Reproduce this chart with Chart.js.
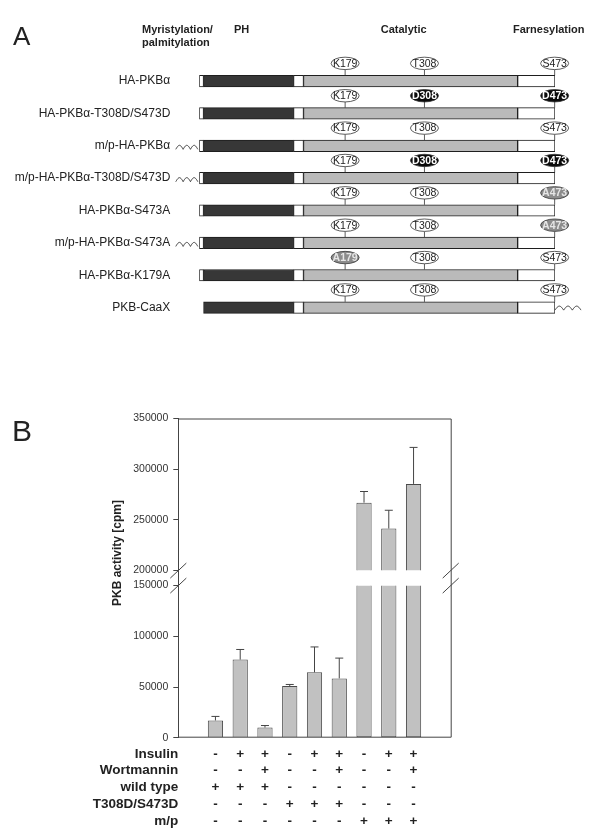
<!DOCTYPE html>
<html><head><meta charset="utf-8">
<script src="https://cdn.jsdelivr.net/npm/chart.js@4.4.0/dist/chart.umd.min.js"></script>
<style>
html,body{margin:0;padding:0;background:#fff;}
#wrap{position:relative;width:614px;height:840px;overflow:hidden;background:#fff;}
canvas{position:absolute;left:0;}
#cA{top:0;} #cB{top:360px;}
</style></head><body>
<div id="wrap"><canvas id="cA" width="614" height="360"></canvas><canvas id="cB" width="614" height="480"></canvas></div>
<script>
// ---------- Panel A data ----------
const constructs = ['HA-PKBα','HA-PKBα-T308D/S473D','m/p-HA-PKBα','m/p-HA-PKBα-T308D/S473D','HA-PKBα-S473A','m/p-HA-PKBα-S473A','HA-PKBα-K179A','PKB-CaaX'];
const domainNames = ['HA','PH','linker','Catalytic','C-terminus'];
const domainStart = [0, 1.2, 26.5, 29.3, 89.5];
const domainEnd = [1.2, 26.5, 29.3, 89.5, 100];
const hasHA = [true, true, true, true, true, true, true, false];
const lipidAnchor = ['', '', 'N', 'N', '', 'N', '', 'C'];
const sitePositions = [41.0, 63.3, 99.9];
const site179 = ['K179','K179','K179','K179','K179','K179','A179','K179'];
const site308 = ['T308','D308','T308','D308','T308','T308','T308','T308'];
const site473 = ['S473','D473','S473','D473','A473','A473','S473','S473'];
const headers = ['Myristylation/', 'palmitylation', 'PH', 'Catalytic', 'Farnesylation'];

// ---------- Panel B data ----------
const activity = [17000, 77000, 10000, 51000, 64500, 58500, 267000, 241500, 285500];
const activityErr = [4000, 10000, 2000, 1500, 25000, 20000, 11000, 18000, 36000];
const rowTitles = ['Insulin', 'Wortmannin', 'wild type', 'T308D/S473D', 'm/p'];
const insulin    = ['-','+','+','-','+','+','-','+','+'];
const wortmannin = ['-','-','+','-','-','+','-','-','+'];
const wildType   = ['+','+','+','-','-','-','-','-','-'];
const t308dS473d = ['-','-','-','+','+','+','-','-','-'];
const mp         = ['-','-','-','-','-','-','+','+','+'];
const yTicksLower = [0, 50000, 100000, 150000];
const yTicksUpper = [200000, 250000, 300000, 350000];
const breakLow = 150000, breakHigh = 200000;

const FONT = "'Liberation Sans', Arial, Helvetica, sans-serif";
const INK = '#222';

// ================= Panel A =================
const domainColors = ['#ffffff', '#373737', '#ffffff', '#bababa', '#ffffff'];
const dsA = domainNames.map((name, d) => ({
  label: name,
  data: constructs.map((c, r) => (d === 0 && !hasHA[r]) ? null : [domainStart[d], domainEnd[d]]),
  backgroundColor: domainColors[d],
  borderColor: '#1e1e1e',
  borderWidth: 1,
  borderSkipped: false,
  barThickness: 11.5,
  grouped: false
}));

function wave(ctx, x0, x1, y, humps, amp) {
  ctx.beginPath();
  const n = 60;
  for (let i = 0; i <= n; i++) {
    const t = i / n;
    const x = x0 + (x1 - x0) * t;
    const yy = y - amp * Math.abs(Math.sin(Math.PI * humps * t)) + amp / 2;
    if (i === 0) ctx.moveTo(x, yy); else ctx.lineTo(x, yy);
  }
  ctx.stroke();
}

const panelAPlugin = {
  id: 'panelA',
  afterDatasetsDraw(chart) {
    const ctx = chart.ctx;
    const xs = chart.scales.x, ys = chart.scales.y;
    ctx.save();
    // sites
    const sites = [site179, site308, site473];
    constructs.forEach((c, r) => {
      const yc = ys.getPixelForValue(r);
      const barTop = yc - 5.75;
      const ey = yc - 17.7;
      sites.forEach((arr, s) => {
        const lab = arr[r];
        const x = xs.getPixelForValue(sitePositions[s]);
        const kind = lab[0];
        ctx.strokeStyle = '#333';
        ctx.lineWidth = 0.8;
        ctx.beginPath(); ctx.moveTo(x, ey + 6.2); ctx.lineTo(x, barTop); ctx.stroke();
        ctx.beginPath(); ctx.ellipse(x, ey, 14, 6.2, 0, 0, Math.PI * 2);
        let fill = '#fff', txt = '#222', bold = '';
        if (kind === 'D') { fill = '#0a0a0a'; txt = '#fff'; bold = 'bold '; }
        else if (kind === 'A') { fill = '#8c8c8c'; txt = '#e6e6e6'; bold = 'bold '; }
        ctx.fillStyle = fill; ctx.fill(); ctx.stroke();
        ctx.fillStyle = txt;
        ctx.font = bold + '10.5px ' + FONT;
        ctx.textAlign = 'center'; ctx.textBaseline = 'middle';
        ctx.fillText(lab, x, ey + 0.5);
      });
      // lipid anchors
      ctx.strokeStyle = '#333'; ctx.lineWidth = 1;
      if (lipidAnchor[r] === 'N') {
        const x1 = xs.getPixelForValue(0) - 1.5;
        wave(ctx, x1 - 22, x1, yc + 1.5, 3, 4);
      } else if (lipidAnchor[r] === 'C') {
        const x0 = xs.getPixelForValue(100);
        wave(ctx, x0, x0 + 26, yc + 0.5, 3, 4);
      }
    });
    // headers
    ctx.fillStyle = INK;
    ctx.textBaseline = 'alphabetic';
    ctx.font = 'bold 11px ' + FONT;
    ctx.textAlign = 'left';
    ctx.fillText(headers[0], 142, 32.5);
    ctx.fillText(headers[1], 142, 46);
    ctx.fillText(headers[2], 234, 32.5);
    ctx.textAlign = 'center';
    ctx.fillText(headers[3], 403.7, 32.5);
    ctx.textAlign = 'left';
    ctx.fillText(headers[4], 513, 32.5);
    ctx.font = '26px ' + FONT;
    ctx.fillText('A', 13, 44.5);
    ctx.restore();
  }
};

new Chart(document.getElementById('cA'), {
  type: 'bar',
  data: { labels: constructs, datasets: dsA },
  options: {
    indexAxis: 'y', responsive: false, animation: false, events: [],
    layout: { padding: { top: 64.9, bottom: 18.3, right: 59, left: 0 } },
    plugins: { legend: { display: false }, tooltip: { enabled: false } },
    scales: {
      x: { type: 'linear', min: 0, max: 100, display: false },
      y: {
        type: 'category',
        grid: { display: false, drawTicks: false },
        border: { display: false },
        ticks: { padding: 29, color: INK, font: { family: FONT, size: 12 } },
        afterFit(s) { s.width = 199.3; }
      }
    }
  },
  plugins: [panelAPlugin]
});

// ================= Panel B =================
const axisGap = 7400;
const barsLower = activity.map((v, i) => ({ x: i + 1, y: [0, Math.min(v, breakLow)] }));
const barsUpper = activity.map((v, i) => ({ x: i + 1, y: v > breakHigh ? [breakHigh, v] : null })).filter(p => p.y !== null);
const barStyle = {
  backgroundColor: '#c1c1c1', borderColor: '#4a4a4a', borderWidth: 1,
  grouped: false, categoryPercentage: 1, barPercentage: 0.615
};
const yCommon = {
  type: 'linear', position: 'left', stack: 'act', stackWeight: 1,
  grid: { drawOnChartArea: false, drawTicks: true, tickLength: 5, color: '#444' },
  border: { display: true, color: '#444' },
  ticks: { padding: 5, color: '#333', font: { family: FONT, size: 10.5 }, callback: v => String(v) },
  afterFit(s) { s.width = 178.3; }
};

function slash(ctx, x, y) {
  ctx.beginPath(); ctx.moveTo(x - 8, y + 7.5); ctx.lineTo(x + 8, y - 7.5); ctx.stroke();
}

const panelBPlugin = {
  id: 'panelB',
  afterDatasetsDraw(chart) {
    const ctx = chart.ctx;
    const a = chart.chartArea;
    const xs = chart.scales.x, yl = chart.scales.y, yu = chart.scales.yTop;
    ctx.save();
    ctx.strokeStyle = '#444'; ctx.lineWidth = 1;
    // frame: top, right, bottom
    ctx.beginPath();
    ctx.moveTo(a.left, a.top + 0.5); ctx.lineTo(a.right + 0.5, a.top + 0.5);
    ctx.lineTo(a.right + 0.5, a.bottom - 0.5); ctx.lineTo(a.left, a.bottom - 0.5);
    ctx.stroke();
    // error bars
    activity.forEach((v, i) => {
      const sc = v > breakLow ? yu : yl;
      const x = xs.getPixelForValue(i + 1);
      const y0 = sc.getPixelForValue(v), y1 = sc.getPixelForValue(v + activityErr[i]);
      ctx.beginPath();
      ctx.moveTo(x, y0); ctx.lineTo(x, y1);
      ctx.moveTo(x - 4, y1); ctx.lineTo(x + 4, y1);
      ctx.stroke();
    });
    // axis break marks
    const yb1 = yu.getPixelForValue(breakHigh), yb2 = yl.getPixelForValue(breakLow);
    [a.left, a.right].forEach(x => { slash(ctx, x, yb1); slash(ctx, x, yb2); });
    // treatment table
    const rows = [insulin, wortmannin, wildType, t308dS473d, mp];
    ctx.fillStyle = INK;
    ctx.font = 'bold 13.5px ' + FONT;
    ctx.textBaseline = 'middle';
    rows.forEach((row, r) => {
      const y = a.bottom + 16.3 + r * 16.75;
      ctx.textAlign = 'right';
      ctx.fillText(rowTitles[r], a.left, y);
      ctx.textAlign = 'center';
      row.forEach((s, i) => ctx.fillText(s, xs.getPixelForValue(i + 1), y));
    });
    // y title
    ctx.save();
    ctx.translate(118, 193);
    ctx.rotate(-Math.PI / 2);
    ctx.font = 'bold 12px ' + FONT;
    ctx.textAlign = 'center'; ctx.textBaseline = 'middle';
    ctx.fillText('PKB activity [cpm]', 0, 0);
    ctx.restore();
    // panel letter
    ctx.font = '30px ' + FONT;
    ctx.textAlign = 'left'; ctx.textBaseline = 'alphabetic';
    ctx.fillText('B', 12, 81);
    ctx.restore();
  }
};

new Chart(document.getElementById('cB'), {
  type: 'bar',
  data: {
    datasets: [
      Object.assign({ label: 'lower', data: barsLower, yAxisID: 'y',
        borderSkipped: ctx => activity[ctx.dataIndex] > breakLow ? 'top' : 'bottom' }, barStyle),
      Object.assign({ label: 'upper', data: barsUpper, yAxisID: 'yTop', borderSkipped: 'bottom' }, barStyle)
    ]
  },
  options: {
    responsive: false, animation: false, events: [],
    layout: { padding: { top: 58.5, bottom: 102.3, right: 163.3, left: 0 } },
    plugins: { legend: { display: false }, tooltip: { enabled: false } },
    scales: {
      x: { type: 'linear', min: 0, max: 10, display: false, ticks: { stepSize: 1 } },
      y: Object.assign({}, yCommon, { weight: 0, min: 0, max: breakLow + axisGap,
        afterBuildTicks(s) { s.ticks = yTicksLower.map(v => ({ value: v })); } }),
      yTop: Object.assign({}, yCommon, { weight: 1, min: breakHigh - axisGap, max: 350000,
        afterBuildTicks(s) { s.ticks = yTicksUpper.map(v => ({ value: v })); } })
    }
  },
  plugins: [panelBPlugin]
});
</script>
</body></html>
